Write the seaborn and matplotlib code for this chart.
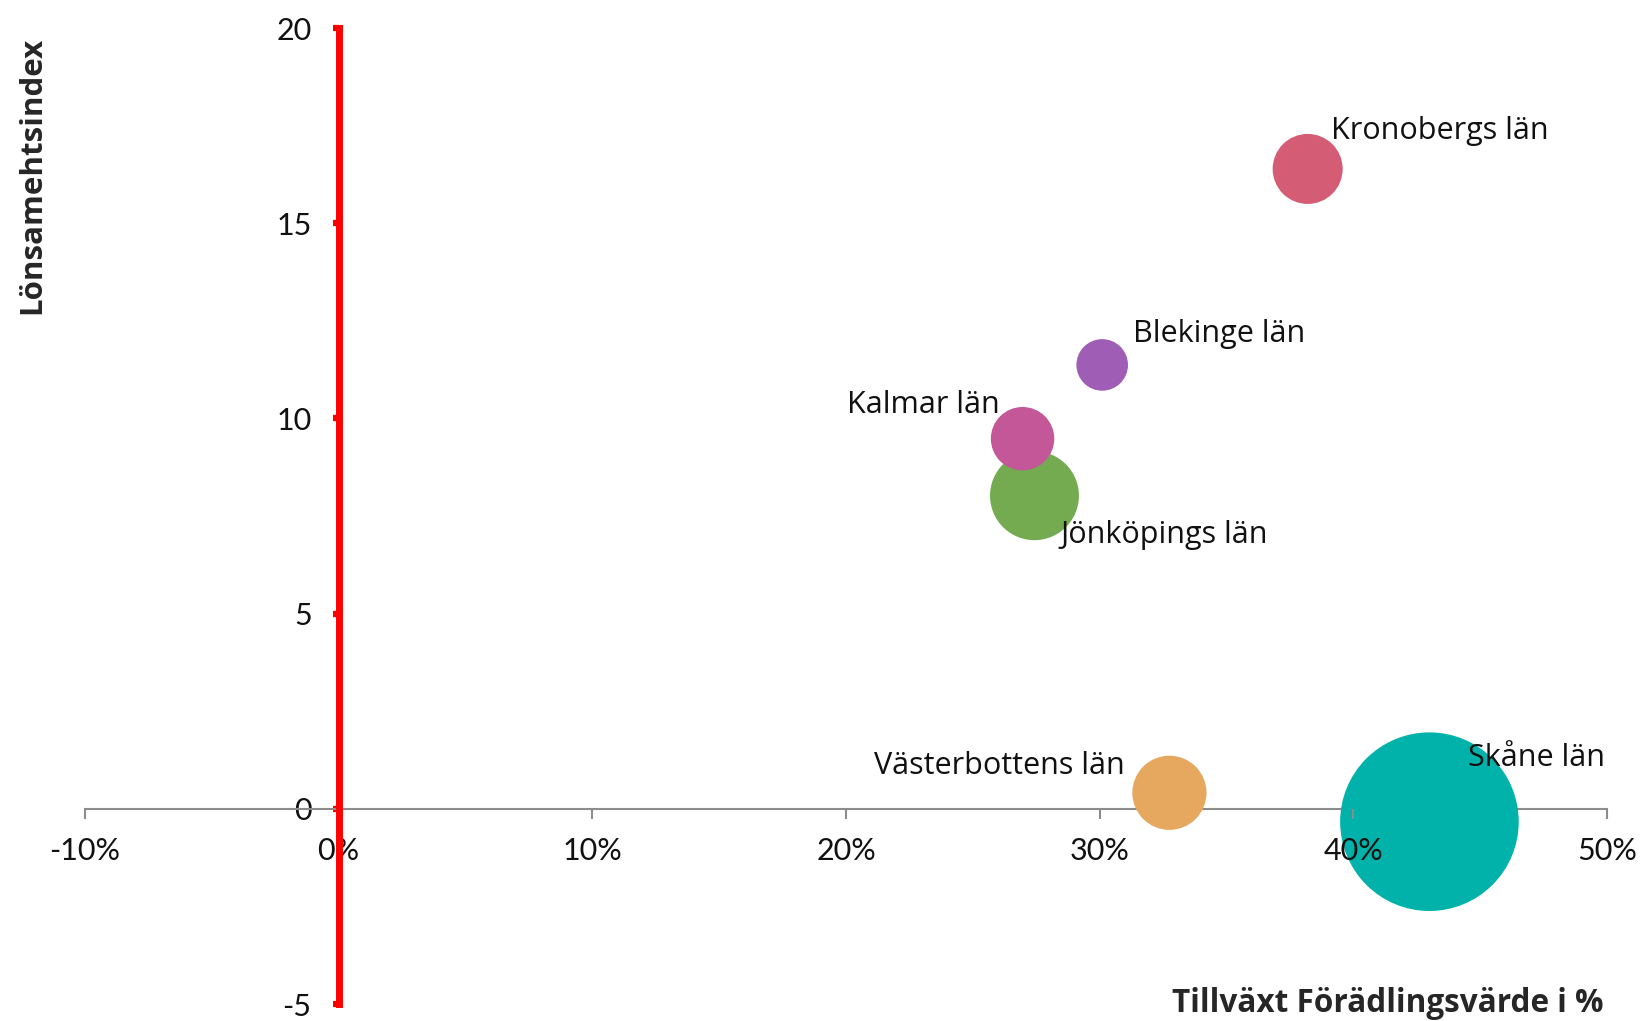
import numpy as np
import pandas as pd
import seaborn as sns
import matplotlib.pyplot as plt
from matplotlib.ticker import PercentFormatter, MultipleLocator

# data
regions = ["Blekinge län", "Jönköpings län", "Kalmar län", "Kronobergs län", "Skåne län", "Västerbottens län"]
growth = [0.301, 0.2743, 0.2696, 0.382, 0.430, 0.3275]   # Tillväxt förädlingsvärde
index = [11.37, 8.02, 9.48, 16.39, -0.33, 0.41]           # Lönsamhetsindex
weight = [6.7, 19.8, 10.1, 12.3, 79.7, 13.8]              # bubble size
colors = ["#A05DB5", "#74AB50", "#C45798", "#D45D75", "#00B2A9", "#E6A85E"]

# label offsets in points (dx, dy, ha)
label_pos = {
    "Blekinge län": (22, 22, "left"),
    "Jönköpings län": (19, -28.5, "left"),
    "Kalmar län": (-16.5, 24.5, "right"),
    "Kronobergs län": (17, 27, "left"),
    "Skåne län": (28, 45.5, "left"),
    "Västerbottens län": (-32, 19, "right"),
}

df = pd.DataFrame({"region": regions, "growth": growth, "index": index, "weight": weight})

sns.set_style("white")
plt.rcParams["font.family"] = ["Lato", "DejaVu Sans"]
plt.rcParams["axes.unicode_minus"] = False
label_font = ["Open Sans", "DejaVu Sans"]

fig = plt.figure(figsize=(16.45, 10.21), dpi=100)
ax = fig.add_axes([85 / 1645, 1 - 1004 / 1021, 1522 / 1645, 976 / 1021])

sns.scatterplot(data=df, x="growth", y="index", hue="region", palette=colors,
                size="weight", sizes=(1380, 16536), legend=False, linewidth=0,
                alpha=1, ax=ax, zorder=3)

for r, x, y in zip(regions, growth, index):
    dx, dy, ha = label_pos[r]
    ax.annotate(r, (x, y), xytext=(dx, dy), textcoords="offset points",
                ha=ha, va="center", fontsize=22, color="#111111", zorder=6,
                family=label_font)

ax.set_xlim(-0.10, 0.50)
ax.set_ylim(-5, 20)
ax.xaxis.set_major_locator(MultipleLocator(0.10))
ax.xaxis.set_major_formatter(PercentFormatter(1.0, decimals=0))
ax.yaxis.set_major_locator(MultipleLocator(5))

for s in ["top", "right"]:
    ax.spines[s].set_visible(False)
ax.spines["left"].set_position(("data", 0))
ax.spines["bottom"].set_position(("data", 0))
ax.spines["left"].set_color("#FF0000")
ax.spines["left"].set_linewidth(5)
ax.spines["left"].set_zorder(5)
ax.spines["bottom"].set_color("#8C8C8C")
ax.spines["bottom"].set_linewidth(1.5)

ax.tick_params(axis="y", left=True, colors="#FF0000", length=4.5, width=4.5, pad=15,
               labelsize=22, labelcolor="#111111")
ax.tick_params(axis="x", bottom=True, colors="#8C8C8C", length=7, width=1.5, pad=13,
               labelsize=22, labelcolor="#111111")
ax.xaxis.set_zorder(4)
ax.set_xlabel("")
ax.set_ylabel("")

fig.text(32 / 1645, 1 - 175 / 1021, "Lönsamehtsindex", rotation=90, ha="center",
         va="center", fontsize=22.5, fontweight="bold", family=label_font)
fig.text(1604 / 1645, 1 - 1003 / 1021, "Tillväxt Förädlingsvärde i %", ha="right",
         va="center", fontsize=22.7, fontweight="bold", family=label_font)

fig.savefig("out.png", dpi=100)
